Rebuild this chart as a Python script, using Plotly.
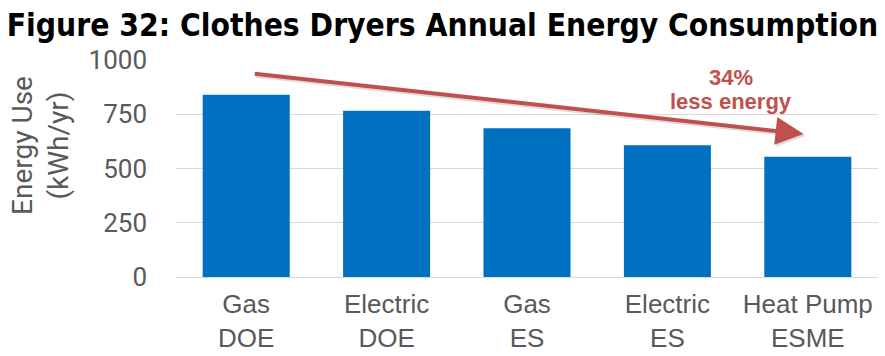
import plotly.graph_objects as go

# Annual energy use by dryer type / standard
categories = ["Gas<br>DOE", "Electric<br>DOE", "Gas<br>ES", "Electric<br>ES", "Heat Pump<br>ESME"]
energy_kwh = [840, 766, 685, 607, 554]
y_ticks = [0, 250, 500, 750, 1000]

BAR_BLUE = "#0070C0"
ARROW_RED = "#C0504D"
GREY_TEXT = "#595959"
NARROW = "Liberation Sans Narrow, Arial Narrow, sans-serif"

fig = go.Figure(
    go.Bar(
        x=categories,
        y=energy_kwh,
        marker=dict(color=BAR_BLUE, line=dict(width=0)),
        hoverinfo="skip",
    )
)

# Trend arrow from the first bar toward the last (soft shadow underneath)
fig.add_annotation(
    x=3.97, y=659, ax=0.05, ay=937,
    xref="x", yref="y", axref="x", ayref="y",
    xshift=1.5, yshift=-2,
    text="", showarrow=True,
    arrowhead=2, arrowsize=1.4, arrowwidth=4, arrowcolor="rgba(120,120,120,0.25)",
)
fig.add_annotation(
    x=3.97, y=659, ax=0.05, ay=937,
    xref="x", yref="y", axref="x", ayref="y",
    text="", showarrow=True,
    arrowhead=2, arrowsize=1.4, arrowwidth=4, arrowcolor=ARROW_RED,
)
reduction = round((1 - energy_kwh[-1] / energy_kwh[0]) * 100)
fig.add_annotation(
    x=3.45, y=920, xref="x", yref="y",
    text=f"<b>{reduction}%</b>", showarrow=False,
    font=dict(family=NARROW, size=22, color=ARROW_RED),
)
fig.add_annotation(
    x=3.45, y=808, xref="x", yref="y",
    text="<b>less energy</b>", showarrow=False,
    font=dict(family=NARROW, size=22, color=ARROW_RED),
)

# Two-line rotated y-axis title
fig.add_annotation(
    x=-0.194, y=0.608, xref="paper", yref="paper",
    xanchor="center", yanchor="middle",
    text="Energy Use<br>(kWh/yr)", showarrow=False, textangle=-90,
    font=dict(family="Roboto, sans-serif", size=28, color=GREY_TEXT),
)

fig.update_layout(
    width=885, height=356,
    margin=dict(l=176, r=7, t=60, b=79, autoexpand=False),
    paper_bgcolor="white", plot_bgcolor="white",
    bargap=0.38,
    showlegend=False,
    title=dict(
        text="<b>Figure 32: Clothes Dryers Annual Energy Consumption</b>",
        x=0.5, xanchor="center", y=0.93, yanchor="middle",
        font=dict(family="DejaVu Sans Condensed, DejaVu Sans, sans-serif", size=31.5, color="black"),
    ),
    xaxis=dict(
        showgrid=False, showline=False, zeroline=False,
        automargin=False,
        tickfont=dict(family=NARROW, size=26, color=GREY_TEXT),
        ticklabelstandoff=9,
        fixedrange=True,
    ),
    yaxis=dict(
        range=[0, 1000],
        tickvals=y_ticks,
        automargin=False,
        showgrid=True, gridcolor="#D9D9D9", gridwidth=1,
        zeroline=True, zerolinecolor="#D9D9D9", zerolinewidth=1,
        showline=False,
        tickfont=dict(family="Roboto, sans-serif", size=26, color=GREY_TEXT),
        ticklabelstandoff=28,
        fixedrange=True,
    ),
)

fig.write_html("out.html")
